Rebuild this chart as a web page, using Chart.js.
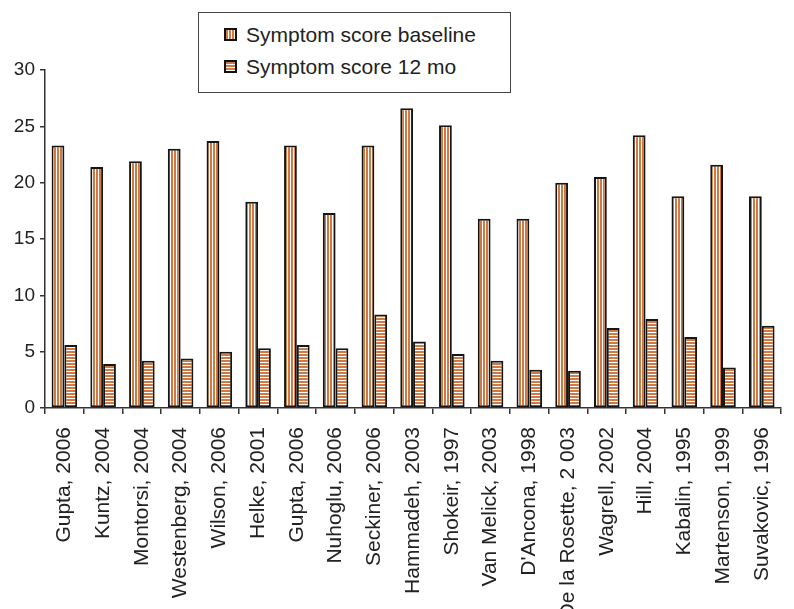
<!DOCTYPE html>
<html>
<head>
<meta charset="utf-8">
<script src="https://cdn.jsdelivr.net/npm/chart.js@4/dist/chart.umd.min.js"></script>
<style>
  body { margin: 0; background: #fff; }
  #wrap { position: relative; width: 794px; height: 609px; overflow: hidden; }
  #legend {
    position: absolute; left: 198px; top: 12px; width: 311px; height: 79px;
    border: 1px solid #444; background: #fff;
    font-family: "Liberation Sans", Arial, sans-serif; font-size: 21px; color: #222;
  }
  .item { position: absolute; left: 25px; height: 24px; line-height: 24px; white-space: nowrap; }
  .sw { display: inline-block; width: 9px; height: 9px; border: 2px solid #111; vertical-align: middle; margin-right: 9px; position: relative; top: -2px; }
  .sw.v { background: repeating-linear-gradient(90deg, #cf7a44 0 2px, #fff 2px 3px); }
  .sw.h { background: repeating-linear-gradient(180deg, #cf7a44 0 2px, #fff 2px 3px); }
</style>
</head>
<body>
<div id="wrap">
  <canvas id="bar-chart" width="800" height="609"></canvas>
  <div id="legend">
    <div class="item" style="top:10px"><span class="sw v"></span>Symptom score baseline</div>
    <div class="item" style="top:42px"><span class="sw h"></span>Symptom score 12 mo</div>
  </div>
</div>
<script>
/* Chart data */
var studies = ["Gupta, 2006","Kuntz, 2004","Montorsi, 2004","Westenberg, 2004","Wilson, 2006","Helke, 2001",
  "Gupta, 2006","Nuhoglu, 2006","Seckiner, 2006","Hammadeh, 2003","Shokeir, 1997","Van Melick, 2003",
  "D'Ancona, 1998","De la Rosette, 2 003","Wagrell, 2002","Hill, 2004","Kabalin, 1995","Martenson, 1999","Suvakovic, 1996"];
var scoreBaseline = [23.3,21.4,21.9,23.0,23.7,18.3,23.3,17.3,23.3,26.6,25.1,16.8,16.8,20.0,20.5,24.2,18.8,21.6,18.8];
var score12mo = [5.6,3.9,4.2,4.4,5.0,5.3,5.6,5.3,8.3,5.9,4.8,4.2,3.4,3.3,7.1,7.9,6.3,3.6,7.3];
var yTicks = [0,5,10,15,20,25,30];

var orange = "#cf7a44";

// striped fills
function stripes(vertical) {
  var c = document.createElement("canvas");
  c.width = 3; c.height = 3;
  var g = c.getContext("2d");
  g.fillStyle = "#fff";
  g.fillRect(0, 0, 3, 3);
  g.fillStyle = orange;
  if (vertical) g.fillRect(0, 0, 2, 3);
  else g.fillRect(0, 0, 3, 2);
  return g.createPattern(c, "repeat");
}

Chart.defaults.font.family = "'Liberation Sans', Arial, sans-serif";
Chart.defaults.color = "#222";

new Chart(document.getElementById("bar-chart"), {
  type: 'bar',
  data: {
    labels: studies,
    datasets: [{
        label: "Symptom score baseline",
        data: scoreBaseline,
        backgroundColor: stripes(true),
        borderColor: "#151515",
        borderWidth: 2,
        borderSkipped: false
      }, {
        label: "Symptom score 12 mo",
        data: score12mo,
        backgroundColor: stripes(false),
        borderColor: "#151515",
        borderWidth: 2,
        borderSkipped: false
      }
    ]
  },
  options: {
    responsive: false,
    animation: false,
    // canvas is wider than the page on purpose: the last category runs off the right edge
    layout: { padding: { top: 70, right: 1, left: 0, bottom: 0 } },
    plugins: { legend: { display: false }, tooltip: { enabled: false } },
    datasets: { bar: { categoryPercentage: 0.66, barPercentage: 1.0 } },
    scales: {
      x: {
        grid: { drawOnChartArea: false, tickLength: 6, color: "#333", lineWidth: 1.5, offset: true },
        border: { color: "#333", width: 1.5 },
        ticks: { autoSkip: false, minRotation: 90, maxRotation: 90, padding: 13, font: { size: 21 }, color: "#222" },
        afterFit: function(scale) { scale.height = 201; }
      },
      y: {
        min: 0, max: 30,
        afterBuildTicks: function(scale) { scale.ticks = yTicks.map(function(v) { return { value: v }; }); },
        grid: { drawOnChartArea: false, tickLength: 5, color: "#333", lineWidth: 1.5 },
        border: { color: "#333", width: 1.5 },
        ticks: { padding: 5, font: { size: 19 }, color: "#222" },
        afterFit: function(scale) { scale.width = 45; }
      }
    }
  }
});
</script>
</body>
</html>
